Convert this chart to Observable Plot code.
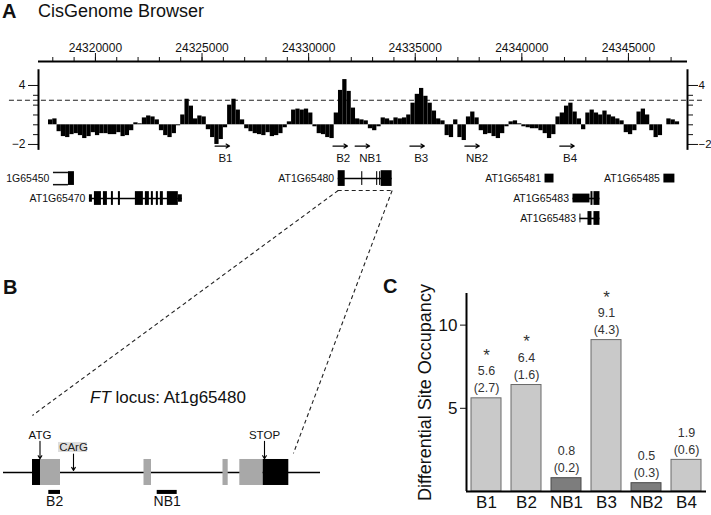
<!DOCTYPE html>
<html>
<head>
<meta charset="utf-8">
<script src="https://cdn.jsdelivr.net/npm/d3@7"></script>
<script src="https://cdn.jsdelivr.net/npm/@observablehq/plot@0.6"></script>
<style>
  html, body { margin: 0; padding: 0; background: white; }
  #fig { position: relative; width: 711px; height: 515px; overflow: hidden; font-family: 'Liberation Sans', Arial, Helvetica, sans-serif; color: #111; }
  .abs { position: absolute; }
  .panel-letter { font-weight: bold; font-size: 20px; line-height: 1; }
</style>
</head>
<body>
<div id="fig">
  <div id="pa" class="abs" style="left:0;top:0;width:711px;height:515px"></div>
  <div id="pb" class="abs" style="left:0;top:420px;width:340px;height:95px"></div>
  <div id="pc" class="abs" style="left:380px;top:270px;width:331px;height:245px"></div>
  <div class="abs panel-letter" style="left:2px;top:1px">A</div>
  <div class="abs" style="left:38px;top:2px;font-size:18px;line-height:1">CisGenome Browser</div>
  <div class="abs panel-letter" style="left:3px;top:277px">B</div>
  <div class="abs" style="left:90px;top:389px;font-size:17px;line-height:1;white-space:nowrap"><i>FT</i> locus: At1g65480</div>
  <div class="abs panel-letter" style="left:383px;top:276px">C</div>
</div>
<script>
// ---------------- DATA ----------------
// Panel A: genomic coordinates (bp)
const genomeTicksMajor = [24320000, 24325000, 24330000, 24335000, 24340000, 24345000];
const genomeTicksMinor = [24318000, 24319000, 24320000, 24321000, 24322000, 24323000, 24324000, 24325000,
  24326000, 24327000, 24328000, 24329000, 24330000, 24331000, 24332000, 24333000, 24334000, 24335000,
  24336000, 24337000, 24338000, 24339000, 24340000, 24341000, 24342000, 24343000, 24344000, 24345000,
  24346000, 24347000];
const signalTicksLabeled = [4, -2];
const signalTicksMinor = [3, 2, 1, 0, -1];
const threshold = 2.5;

// ChIP signal, 200 bp bins starting at 24317800
const signalBinStart = 24317800;
const signalBinSize = 200;
const signalValues = [
  0.5, 0.6, -0.7, -1.2, -1.3, -1.0, -0.9, -1.1, -1.4, -1.2,
  -0.8, -1.1, -0.9, -0.9, -1.0, -1.0, -0.8, -1.2, -1.1, -0.6,
  0.2, 0.1, 0.7, 0.9, 0.8, 0.5, -0.6, -1.1, -1.3, -0.9,
  -0.1, 1.0, 2.6, 1.9, 0.6, 0.9, 0.8, -0.5, -1.3, -2.0,
  -1.5, -0.3, 2.0, 2.6, 1.5, 0.5, -0.4, -0.7, -0.9, -1.0,
  -1.1, -0.8, -1.2, -1.1, -0.9, -0.3, 0.3, 1.5, 1.6, 1.5,
  1.6, 1.2, -0.2, -0.9, -1.0, -1.3, -1.4, 1.2, 3.5, 4.6,
  3.4, 1.7, 0.6, 0.5, 0.4, -0.4, -0.6, -0.2, 0.7, 0.6,
  0.4, 0.7, 0.6, 0.7, 1.0, 2.2, 3.1, 3.7, 2.9, 2.2,
  1.4, 0.6, 0.4, -1.1, -1.3, 0.5, -1.3, -1.6, 0.8, 1.3,
  0.7, -0.6, -1.0, -0.9, -1.2, -1.4, -0.9, -0.2, 0.3, 0.4,
  0.1, -0.2, -0.3, -0.4, -0.4, -0.6, -0.9, -1.4, -1.0, 0.8,
  1.2, 1.9, 2.2, 1.3, 0.6, -0.5, 1.2, 1.5, 1.2, 1.0,
  1.4, 1.0, 0.8, 0.6, 0.4, -0.8, -1.0, -0.6, 1.3, 1.6,
  1.0, -0.6, -1.3, -1.1, 0.0, 0.6, 0.5, 0.3
];

// Binding sites tested (arrow centers and label centers, bp)
const siteNames = ["B1", "B2", "NB1", "B3", "NB2", "B4"];
const sitePositions = [24325951, 24331481, 24332520, 24335089, 24337666, 24342118];
const siteLabelPositions = [24326100, 24331620, 24332900, 24335280, 24337900, 24342260];

// Gene models: [start, end, kind]
const genes = [
  {name: "1G65450", track: 1, start: 24318032, end: 24319016, intron: false,
   exons: [[24318032, 24318735, "open"], [24318735, 24319016, "cds"]]},
  {name: "AT1G65470", track: 2, start: 24319719, end: 24324077, intron: true,
   exons: [[24319719, 24319859, "utr"], [24319953, 24320281, "cds"], [24320375, 24320562, "cds"],
           [24320750, 24320843, "cds"], [24321078, 24321172, "cds"], [24321874, 24322249, "cds"],
           [24322343, 24322530, "cds"], [24322624, 24322718, "cds"], [24322858, 24322952, "cds"],
           [24323046, 24323186, "cds"], [24323374, 24323889, "cds"], [24323889, 24324077, "utr"]]},
  {name: "AT1G65480", track: 1, start: 24331387, end: 24333917, intron: true,
   exons: [[24331387, 24331715, "big"], [24332490, 24332540, "cds"], [24333190, 24333240, "cds"],
           [24333330, 24333380, "cds"], [24333402, 24333917, "big"]]},
  {name: "AT1G65481", track: 1, start: 24341087, end: 24341509, intron: false,
   exons: [[24341087, 24341509, "box"]]},
  {name: "AT1G65485", track: 1, start: 24346663, end: 24347179, intron: false,
   exons: [[24346663, 24347179, "box"]]},
  {name: "AT1G65483", track: 2, start: 24342399, end: 24343664, intron: true,
   exons: [[24342399, 24343196, "box"], [24343243, 24343336, "cds"], [24343383, 24343664, "cds"]]},
  {name: "AT1G65483", track: 3, start: 24342727, end: 24343664, intron: true,
   exons: [[24342727, 24342770, "box"], [24343102, 24343290, "cds"], [24343383, 24343664, "cds"]]}
];

// Panel B: FT locus (bp relative to transcript start)
const ftLocus = [-290, 2880];
const ftExons = [
  {s: 0, e: 80, type: "utr"}, {s: 80, e: 280, type: "cds"}, {s: 1115, e: 1190, type: "cds"},
  {s: 1905, e: 1957, type: "cds"}, {s: 2073, e: 2307, type: "cds"}, {s: 2307, e: 2563, type: "utr"}
];
const ftFragments = [{name: "B2", s: 163, e: 280}, {name: "NB1", s: 1247, e: 1447}];
const ftMarks = [{label: "ATG", pos: 75}, {label: "STOP", pos: 2320}];
const ftMotifs = [{label: "CArG", pos: 410}];

// Panel C: differential site occupancy
const occSites = ["B1", "B2", "NB1", "B3", "NB2", "B4"];
const occMeans = [5.6, 6.4, 0.8, 9.1, 0.5, 1.9];
const occSE = [2.7, 1.6, 0.2, 4.3, 0.3, 0.6];
const occSignificant = [true, true, false, true, false, false];
const occBound = [true, true, false, true, false, true];
const occTicks = [5, 10];

// ---------------- LAYOUT ----------------
const fontFamily = "'Liberation Sans', Arial, Helvetica, sans-serif";
const fmtMinus = d => d < 0 ? "\u2212" + (-d) : String(d);

// Panel A
const xStart = 24317330, xEnd = 24347770;
const yTop = 6.44, yBottom = -39.75;
const trackY = {1: -5.47, 2: -7.5, 3: -9.53};
const half = {cds: 0.7, big: 0.8, utr: 0.38, box: 0.45, open: 0.62};
const arrowY = -2.16, siteLabelY = -3.38;
const signal = signalValues.map((v, i) => ({
  x1: signalBinStart + i * signalBinSize, x2: signalBinStart + (i + 1) * signalBinSize, v
}));
const sites = siteNames.map((name, i) => ({name, pos: sitePositions[i], labelPos: siteLabelPositions[i]}));
const exons = genes.flatMap(g => g.exons.map(([s, e, kind]) => ({track: g.track, s, e, kind})));
const focus = genes.find(g => g.name === "AT1G65480");
const zoomY = -6.68;
const zoomLinks = [
  {x1: focus.start, y1: zoomY, x2: 24317045, y2: -29.57},
  {x1: focus.end, y1: zoomY, x2: 24329287, y2: -33.43}
];

const plotA = Plot.plot({
  width: 711, height: 515,
  marginTop: 61, marginBottom: 0, marginLeft: 38, marginRight: 24,
  x: {domain: [xStart, xEnd], label: null},
  y: {domain: [yBottom, yTop], label: null},
  style: {background: "transparent", fontFamily, fontSize: "12px", overflow: "visible", color: "#111"},
  marks: [
    Plot.ruleY([threshold], {x1: 24315967, x2: 24348517, stroke: "#222", strokeDasharray: "5,3", strokeWidth: 1.1}),
    Plot.rect(signal, {x1: "x1", x2: "x2", y1: 0, y2: "v", fill: "black"}),
    Plot.axisX(genomeTicksMajor, {anchor: "top", tickSize: 9, tickPadding: 1, tickFormat: d => String(d), label: null}),
    Plot.axisX(genomeTicksMinor, {anchor: "top", tickSize: 5, tickFormat: () => "", label: null}),
    Plot.ruleY([yTop], {strokeWidth: 2, stroke: "black"}),
    Plot.axisY(signalTicksLabeled, {anchor: "left", tickSize: 10, tickPadding: 3, tickFormat: fmtMinus, label: null}),
    Plot.axisY(signalTicksMinor, {anchor: "left", tickSize: 5, tickFormat: () => "", label: null}),
    Plot.axisY(signalTicksLabeled, {anchor: "right", tickSize: 10, tickPadding: 1, tickFormat: fmtMinus, label: null, fontSize: 11.5}),
    Plot.axisY(signalTicksMinor, {anchor: "right", tickSize: 5, tickFormat: () => "", label: null}),
    Plot.ruleX([xStart, xEnd], {y1: -2.6, y2: 5.6, strokeWidth: 2, stroke: "black"}),
    Plot.arrow(sites, {x1: d => d.pos - 340, x2: d => d.pos + 340, y1: arrowY, y2: arrowY,
      headLength: 5, strokeWidth: 1.2, stroke: "black"}),
    Plot.text(sites, {x: "labelPos", y: siteLabelY, text: "name", fontSize: 11.5, fill: "#111"}),
    Plot.ruleY(genes.filter(g => g.intron), {y: d => trackY[d.track], x1: "start", x2: "end", strokeWidth: 1.6, stroke: "black"}),
    Plot.rect(exons.filter(d => d.kind !== "open"), {
      x1: "s", x2: "e",
      y1: d => trackY[d.track] - half[d.kind], y2: d => trackY[d.track] + half[d.kind], fill: "black"
    }),
    Plot.ruleY(exons.filter(d => d.kind === "open"), {x1: "s", x2: "e", y: d => trackY[d.track] + half.open, strokeWidth: 1.5}),
    Plot.ruleY(exons.filter(d => d.kind === "open"), {x1: "s", x2: "e", y: d => trackY[d.track] - half.open, strokeWidth: 1.5}),
    Plot.text(genes, {x: "start", y: d => trackY[d.track], text: "name", textAnchor: "end", dx: -4, fontSize: 10.5, fill: "#111"}),
    Plot.ruleY([zoomY], {x1: focus.start, x2: focus.end, strokeDasharray: "4,3", strokeWidth: 1.1, stroke: "#222"}),
    Plot.link(zoomLinks, {x1: "x1", y1: "y1", x2: "x2", y2: "y2", strokeDasharray: "4,3", strokeWidth: 1.1, stroke: "#222"})
  ]
});
document.getElementById("pa").append(plotA);

// Panel B
const plotB = Plot.plot({
  width: 340, height: 95,
  marginTop: 0, marginBottom: 0, marginLeft: 3, marginRight: 20,
  x: {domain: ftLocus, axis: null},
  y: {domain: [-3.31, 4], axis: null},
  style: {background: "transparent", fontFamily, fontSize: "11px", overflow: "visible", color: "#111"},
  marks: [
    Plot.ruleY([0], {strokeWidth: 1.6, stroke: "black"}),
    Plot.rect(ftExons, {x1: "s", x2: "e", y1: -1, y2: 1, fill: d => d.type === "utr" ? "black" : "#a8a8a8"}),
    Plot.rect(ftFragments, {x1: "s", x2: "e", y1: -1.38, y2: -1.69, fill: "black"}),
    Plot.text(ftFragments, {x: d => (d.s + d.e) / 2, y: -2.2, text: "name", fontSize: 14, fill: "#111"}),
    Plot.text(ftMarks, {x: "pos", y: 2.85, text: "label", fontSize: 11.5, fill: "#111"}),
    Plot.arrow(ftMarks, {x1: "pos", x2: "pos", y1: 2.4, y2: 1.05, headLength: 5, strokeWidth: 1.1, stroke: "black"}),
    Plot.rect(ftMotifs, {x1: d => d.pos - 150, x2: d => d.pos + 140, y1: 1.54, y2: 2.31, fill: "#dedede"}),
    Plot.text(ftMotifs, {x: "pos", y: 1.92, text: "label", fontSize: 11.5, fill: "#222"}),
    Plot.arrow(ftMotifs, {x1: "pos", x2: "pos", y1: 1.42, y2: 0.15, headLength: 5, strokeWidth: 1.1, stroke: "black"})
  ]
});
document.getElementById("pb").append(plotB);

// Panel C
const occ = occSites.map((site, i) => ({
  site, mean: occMeans[i], se: occSE[i], sig: occSignificant[i], bound: occBound[i]
}));
const plotC = Plot.plot({
  width: 331, height: 245,
  marginTop: 23, marginBottom: 24, marginLeft: 86, marginRight: 5,
  x: {domain: occSites, paddingInner: 0.25, paddingOuter: 0.125, label: null},
  y: {domain: [0, 11.9], label: null},
  style: {background: "transparent", fontFamily, fontSize: "17px", overflow: "visible", color: "#111"},
  marks: [
    Plot.barY(occ, {x: "site", y: "mean", fill: d => d.bound ? "#c9c9c9" : "#7d7d7d",
      stroke: d => d.bound ? "#6a6a6a" : "#4a4a4a", strokeWidth: 1}),
    Plot.ruleY([0], {strokeWidth: 2, stroke: "black"}),
    Plot.ruleX([occSites[0]], {y1: 0, y2: 11.9, dx: -20, strokeWidth: 2, stroke: "black"}),
    Plot.axisY(occTicks, {anchor: "left", tickSize: 6, tickPadding: 3, label: null, fontSize: 17}),
    Plot.axisX(occSites, {anchor: "bottom", tickSize: 0, tickPadding: 4, label: null, fontSize: 17}),
    Plot.text(occ, {x: "site", y: "mean", text: d => `(${d.se.toFixed(1)})`, dy: -10, fontSize: 12.5, fill: "#333"}),
    Plot.text(occ, {x: "site", y: "mean", text: d => d.mean.toFixed(1), dy: -27, fontSize: 12.5, fill: "#333"}),
    Plot.text(occ.filter(d => d.sig), {x: "site", y: "mean", text: () => "*", dy: -43, fontSize: 17, fill: "#333"}),
    Plot.text(["Differential Site Occupancy"], {frameAnchor: "left", textAnchor: "middle", text: d => d,
      rotate: -90, dx: -41, fontSize: 18, fill: "#111"})
  ]
});
document.getElementById("pc").append(plotC);
</script>
</body>
</html>
